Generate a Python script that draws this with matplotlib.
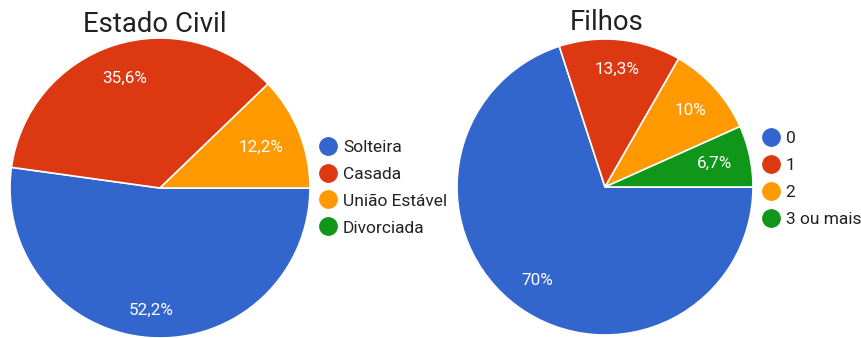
import matplotlib
matplotlib.use("Agg")
import matplotlib.pyplot as plt
from matplotlib.lines import Line2D
import numpy as np

plt.rcParams['font.family'] = ['Roboto', 'DejaVu Sans']

# Data
civil_labels = ["Solteira", "Casada", "União Estável", "Divorciada"]
civil_values = [52.2, 35.6, 12.2, 0.0]
filhos_labels = ["0", "1", "2", "3 ou mais"]
filhos_values = [70.0, 13.3, 10.0, 6.7]

colors = ["#3366CC", "#DC3912", "#FF9900", "#109618"]

W, H = 862, 338
fig = plt.figure(figsize=(W / 100, H / 100), dpi=100)
fig.patch.set_facecolor("white")


def fmt(p):
    s = f"{p:.1f}"
    if s.endswith(".0"):
        s = s[:-2]
    return s.replace(".", ",") + "%"


def px_axes(cx, cy, r):
    return fig.add_axes([(cx - r) / W, (H - cy - r) / H, 2 * r / W, 2 * r / H])


def draw_pie(ax, labels, values, dists, title, title_xy, legend_xy):
    vals = [v for v in values if v > 0]
    cols = [c for c, v in zip(colors, values) if v > 0]
    wedges, _t, autotexts = ax.pie(
        vals, colors=cols, startangle=0, counterclock=False,
        autopct=lambda p: "", pctdistance=0.78,
        wedgeprops=dict(edgecolor="white", linewidth=1.2), radius=1.0)
    for w, at, d, v in zip(wedges, autotexts, dists, vals):
        ang = np.deg2rad((w.theta1 + w.theta2) / 2)
        at.set_position((d * np.cos(ang), d * np.sin(ang)))
        at.set_text(fmt(v))
        at.set_color("white")
        at.set_fontsize(12.3)
        at.set_ha("center")
        at.set_va("center")
    ax.set_xlim(-1, 1)
    ax.set_ylim(-1, 1)
    ax.set_aspect("equal")
    ax.axis("off")
    fig.text(title_xy[0] / W, 1 - title_xy[1] / H, title, ha="center",
             va="baseline", fontsize=19.8, color="#212121")
    handles = [Line2D([0], [0], marker="o", linestyle="", markersize=12.5,
                      markerfacecolor=c, markeredgecolor=c) for c in colors]
    fig.legend(handles, labels, loc="upper left",
               bbox_to_anchor=(legend_xy[0] / W, 1 - legend_xy[1] / H),
               bbox_transform=fig.transFigure, frameon=False,
               fontsize=12.5, handlelength=1.0, handletextpad=0.36,
               labelspacing=0.68, borderpad=0, borderaxespad=0,
               labelcolor="#222222")


ax1 = px_axes(160, 188, 150)
draw_pie(ax1, civil_labels, civil_values, [0.82, 0.77, 0.73],
         "Estado Civil", (155, 32), (319.3, 139.5))

ax2 = px_axes(605, 187, 148)
draw_pie(ax2, filhos_labels, filhos_values, [0.78, 0.80, 0.775, 0.76],
         "Filhos", (607, 30), (762, 131))

fig.savefig("out.png", dpi=100, facecolor="white")
